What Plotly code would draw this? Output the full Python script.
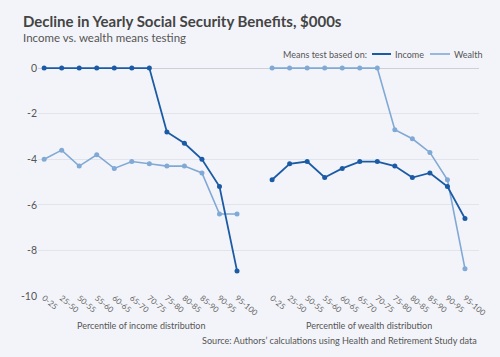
import plotly.graph_objects as go

categories = ["0-25", "25-50", "50-55", "55-60", "60-65", "65-70", "70-75",
              "75-80", "80-85", "85-90", "90-95", "95-100"]

# Panel 1: percentile of income distribution
income_panel_income = [0, 0, 0, 0, 0, 0, 0, -2.8, -3.3, -4.0, -5.2, -8.9]
income_panel_wealth = [-4.0, -3.6, -4.3, -3.8, -4.4, -4.1, -4.2, -4.3, -4.3, -4.6, -6.4, -6.4]

# Panel 2: percentile of wealth distribution
wealth_panel_income = [-4.9, -4.2, -4.1, -4.8, -4.4, -4.1, -4.1, -4.3, -4.8, -4.6, -5.2, -6.6]
wealth_panel_wealth = [0, 0, 0, 0, 0, 0, 0, -2.7, -3.1, -3.7, -4.9, -8.8]

y_ticks = [0, -2, -4, -6, -8, -10]

DARK = "#1b5ba6"
LIGHT = "#80a9d6"
BG = "#f3f4f9"
FONT = "Lato"
GREY = "#555555"

# plot area in pixels
L, R, T, B = 38, 479, 59, 296
W, H = R - L, B - T


def px(xp):
    return (xp - L) / W


def py(yp):
    return (B - yp) / H


n = len(categories)
x_left = list(range(n))
x_right = [i + n + 1 for i in range(n)]

fig = go.Figure()


def add(xs, ys, color, width, name):
    fig.add_trace(go.Scatter(
        x=xs, y=ys, mode="lines+markers", name=name, showlegend=False,
        line=dict(color=color, width=width),
        marker=dict(color=color, size=5),
    ))


add(x_left, income_panel_wealth, LIGHT, 1.6, "Wealth")
add(x_left, income_panel_income, DARK, 1.8, "Income")
add(x_right, wealth_panel_wealth, LIGHT, 1.6, "Wealth")
add(x_right, wealth_panel_income, DARK, 1.8, "Income")

fig.update_layout(
    width=500, height=357,
    paper_bgcolor=BG, plot_bgcolor=BG,
    margin=dict(l=L, r=500 - R, t=T, b=357 - B),
    font=dict(family=FONT, color=GREY, size=11),
    showlegend=False,
    xaxis=dict(
        range=[-0.35, 2 * n + 0.8],
        tickmode="array",
        tickvals=x_left + x_right,
        ticktext=categories + categories,
        tickangle=40,
        tickfont=dict(size=8, color="#666666"),
        ticklabelstandoff=-5,
        showgrid=False, zeroline=False, showline=False,
        ticks="", automargin=False,
    ),
    yaxis=dict(
        range=[-10, 0.4],
        tickmode="array", tickvals=y_ticks,
        ticktext=[str(v) for v in y_ticks],
        tickfont=dict(size=10.5, color=GREY),
        gridcolor="#e2e4ec", gridwidth=1,
        zeroline=True, zerolinecolor="#cdd0da", zerolinewidth=1,
        showline=False, ticks="", automargin=False,
    ),
)


def note(text, x, y, size, anchor="left", xref="paper", color=GREY):
    fig.add_annotation(text=text, xref=xref, yref="paper", x=x, y=y,
                       xanchor=anchor, yanchor="middle", showarrow=False,
                       font=dict(size=size, color=color))


note("<b>Decline in Yearly Social Security Benefits, $000s</b>", px(21), py(21), 15, color="#444444")
note("Income vs. wealth means testing", px(21), py(37), 11.5)
note("Percentile of income distribution", (n - 1) / 2, py(325), 9, "center", "x")
note("Percentile of wealth distribution", n + 1 + (n - 1) / 2, py(325), 9, "center", "x")
note("Source: Authors\u2019 calculations using Health and Retirement Study data", 1, py(340), 9.1, "right")

# legend
note("Means test based on:", px(369), py(54), 9, "right")
fig.add_shape(type="line", xref="paper", yref="paper", x0=px(372), x1=px(391),
              y0=py(54), y1=py(54), line=dict(color=DARK, width=2))
note("Income", px(393), py(54), 9)
fig.add_shape(type="line", xref="paper", yref="paper", x0=px(430), x1=px(450),
              y0=py(54), y1=py(54), line=dict(color=LIGHT, width=1.6))
note("Wealth", px(452), py(54), 9)

fig.write_html(
    "out.html",
    config={"displayModeBar": False},
    post_script="document.body.style.margin='0';document.body.style.background='%s';" % BG,
)
